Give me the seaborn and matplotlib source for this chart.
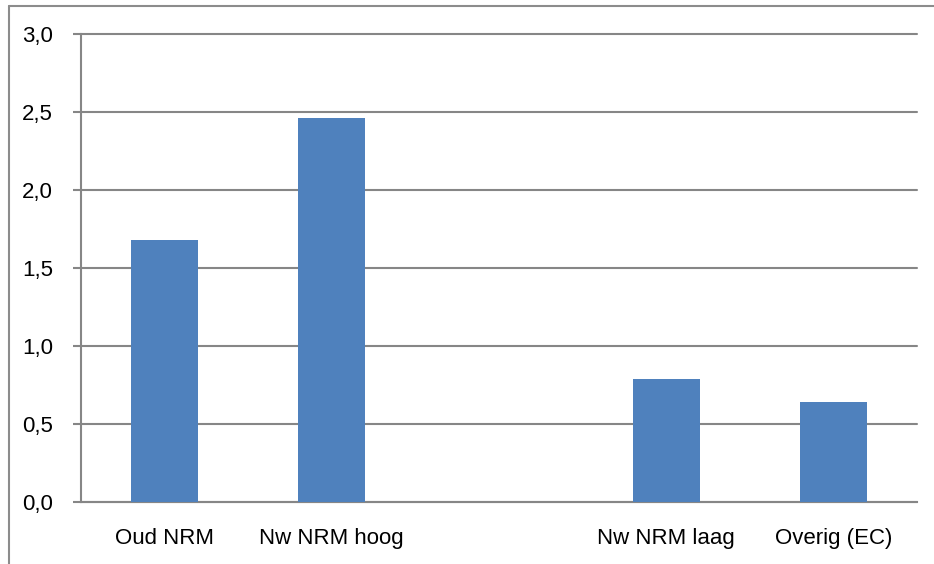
import numpy as np
import pandas as pd
import seaborn as sns
import matplotlib.pyplot as plt
from matplotlib.lines import Line2D
from matplotlib.ticker import FixedLocator, FuncFormatter

categories = ["Oud NRM", "Nw NRM hoog", " ", "Nw NRM laag", "Overig (EC)"]
values = [1.68, 2.46, np.nan, 0.79, 0.64]
y_ticks = [0.0, 0.5, 1.0, 1.5, 2.0, 2.5, 3.0]

df = pd.DataFrame({"cat": categories, "val": values})

sns.set_style("white")
plt.rcParams["font.family"] = ["Liberation Sans", "DejaVu Sans"]

grey = "#868686"
fig = plt.figure(figsize=(9.34, 5.64), dpi=100)
ax = fig.add_axes([81 / 934, 62 / 564, 836 / 934, 468 / 564])

sns.barplot(data=df.dropna(), x="cat", y="val", order=categories,
            color="#4F81BD", saturation=1, width=0.4, linewidth=0, ax=ax, zorder=3)

ax.set_xlim(-0.5, 4.5)
ax.set_ylim(0, 3.0)
ax.set_yticks(y_ticks)
ax.yaxis.set_major_formatter(FuncFormatter(lambda v, p: f"{v:.1f}".replace(".", ",")))
ax.yaxis.grid(True, color=grey, linewidth=1.5, zorder=0)
ax.set_axisbelow(True)
for gl in ax.get_ygridlines():
    gl.set_clip_on(False)

ax.xaxis.set_minor_locator(FixedLocator(np.arange(-0.5, 5, 1)))
ax.tick_params(axis="x", which="major", length=0, pad=19, labelsize=16, labelcolor="black")
ax.tick_params(axis="x", which="minor", length=5, width=1.5, color=grey, direction="out")
ax.tick_params(axis="y", length=6, width=1.5, color=grey, pad=14, labelsize=16,
               labelcolor="black", left=True)

ax.set_xlabel("")
ax.set_ylabel("")
for s in ["top", "right"]:
    ax.spines[s].set_visible(False)
for s in ["left", "bottom"]:
    ax.spines[s].set_color(grey)
    ax.spines[s].set_linewidth(1.5)

# outer chart frame (cut off at right and bottom)
fig.add_artist(Line2D([8.5 / 934, 1.0], [1 - 5.5 / 564, 1 - 5.5 / 564], color="#8c8c8c", lw=1.5))
fig.add_artist(Line2D([8.5 / 934, 8.5 / 934], [0, 1 - 5.5 / 564], color="#8c8c8c", lw=1.5))

fig.savefig("out.png", dpi=100)
